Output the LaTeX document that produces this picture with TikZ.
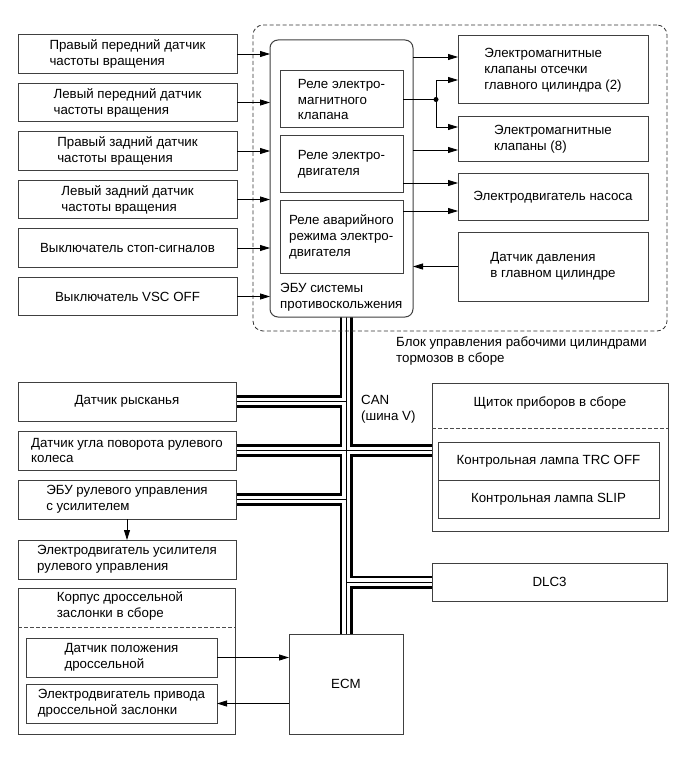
\documentclass[tikz,border=0pt]{standalone}
\usepackage{fontspec}
\setmainfont{Liberation Sans}
\usetikzlibrary{positioning,arrows.meta,backgrounds}

\tikzset{
  blk/.style={draw=black!75, line width=1pt, fill=white, inner sep=0pt, outer sep=0pt, align=left},
  sens/.style={blk, minimum width=219pt, minimum height=38.5pt},
  rel/.style={blk, minimum width=123pt},
  act/.style={blk, minimum width=190pt},
  lft/.style={blk, minimum width=218pt, minimum height=39pt},
  txt/.style={inner sep=0pt, align=left},
  arr/.style={line width=0.8pt, -{Triangle[length=10pt,width=6pt]}},
  sep/.style={draw=black!70, line width=0.8pt, dash pattern=on 3.5pt off 2.5pt},
  bus/.style={line width=0.8pt, preaction={draw=black, line width=13pt}, preaction={draw=white, line width=7.5pt}},
}

\begin{document}
\begin{tikzpicture}[x=1pt, y=-1pt, node distance=10pt, font=\fontsize{13.3}{15.9}\selectfont]
\useasboundingbox (0,0) rectangle (686,759);

%brake actuator block
\node[draw=black!80, line width=0.8pt, dash pattern=on 4pt off 2.5pt, rounded corners=10pt,
  minimum width=414pt, minimum height=306pt] (brake) at (460,178) {};
\node[txt, anchor=north west] (braketxt) at (396,337) {Блок управления рабочими цилиндрами\\тормозов в сборе};

%skid control ECU
\node[blk, rounded corners=8pt, minimum width=143pt, minimum height=277pt] (ecu) at (341.5,178.5) {};
\node[txt, above right=6pt and 10pt of ecu.south west] (ecutxt) {ЭБУ системы\\противоскольжения};
\node[rel, minimum height=57pt] (rvalve) at (341.5,99.5) {Реле электро-\\магнитного\\клапана};
\node[rel, minimum height=57pt] (rmotor) at (341.5,164.5) {Реле электро-\\двигателя};
\node[rel, minimum height=72pt] (rfail) at (341.5,237) {Реле аварийного\\режима электро-\\двигателя};

%sensors and switches
\node[sens] (wfr) at (127.5,54) {Правый передний датчик\\частоты вращения};
\node[sens, below=of wfr] (wfl) {Левый передний датчик\\частоты вращения};
\node[sens, below=of wfl] (wrr) {Правый задний датчик\\частоты вращения};
\node[sens, below=of wrr] (wrl) {Левый задний датчик\\частоты вращения};
\node[sens, below=of wrl] (stop) {Выключатель стоп-сигналов};
\node[sens, below=of stop] (vsc) {Выключатель VSC OFF};
\foreach \s in {wfr,wfl,wrr,wrl,stop,vsc}
  \draw[arr] (\s.east) -- (\s.east -| ecu.west);

%actuators
\node[act, minimum height=68pt] (vcut) at (553,70) {Электромагнитные\\клапаны отсечки\\главного цилиндра (2)};
\node[act, minimum height=45pt] (vsol) at (553,139.5) {Электромагнитные\\клапаны (8)};
\node[act, minimum height=46pt] (pump) at (553,197) {Электродвигатель насоса};
\node[act, minimum height=69pt] (press) at (553,266.5) {Датчик давления\\в главном цилиндре};

\coordinate (t1) at ([yshift=13pt]vcut.west);
\coordinate (t2) at ([yshift=-10.5pt]vsol.west);
\coordinate (t3) at ([yshift=14pt]pump.west);
\coordinate (t4) at ([yshift=-14pt]pump.west);
\coordinate[right=33pt of rvalve.east] (dot);
\draw[arr] (ecu.east |- t1) -- (t1);
\draw (rvalve.east) -- (dot);
\fill (dot) circle (2.5pt);
\draw[arr] (dot) |- ([yshift=-10pt]vcut.west);
\draw[arr] (dot) |- ([yshift=12.5pt]vsol.west);
\draw[arr] (ecu.east |- t2) -- (t2);
\draw[arr] (rmotor.east |- t3) -- (t3);
\draw[arr] (rfail.east |- t4) -- (t4);
\draw[arr] (press.west) -- (press.west -| ecu.east);

%CAN side
\node[txt, anchor=north west] (can) at (361,395) {CAN\\(шина V)};
\node[blk, minimum width=236pt, minimum height=148pt] (meter) at (550,457) {};
\node[txt] (metertxt) at (550,403) {Щиток приборов в сборе};
\draw[sep] ([yshift=-45pt]meter.north west) -- ([yshift=-45pt]meter.north east);
\node[blk, minimum width=221pt, minimum height=38pt] (trc) at (548.5,461) {Контрольная лампа TRC OFF};
\node[blk, minimum width=221pt, minimum height=38pt, below=0pt of trc] (slip) {Контрольная лампа SLIP};
\node[blk, minimum width=235pt, minimum height=38pt] (dlc) at (549.5,582) {DLC3};

\node[lft] (yaw) at (127,401.5) {Датчик рысканья};
\node[lft, below=of yaw] (steer) {Датчик угла поворота рулевого\\колеса};
\node[lft, below=of steer] (eps) {ЭБУ рулевого управления\\с усилителем};
\node[lft, below=21pt of eps] (epsm) {Электродвигатель усилителя\\рулевого управления};
\draw[arr] (eps.south) -- (epsm.north);

%throttle body
\node[blk, minimum width=217pt, minimum height=146pt] (tb) at (126.5,661) {};
\node[txt] (tbtxt) at (120,606) {Корпус дроссельной\\заслонки в сборе};
\draw[sep] ([yshift=-39pt]tb.north west) -- ([yshift=-39pt]tb.north east);
\node[blk, minimum width=191pt, minimum height=39pt] (tps) at (121.5,657.5) {Датчик положения\\дроссельной};
\node[blk, minimum width=191pt, minimum height=39pt, below=7pt of tps] (tmot) {Электродвигатель привода\\дроссельной заслонки};
\node[blk, minimum width=114pt, minimum height=100pt] (ecm) at (346,684) {ECM};
\draw[arr] (tps.east) -- (tps.east -| ecm.west);
\draw[arr] (tmot.east -| ecm.west) -- (tmot.east);

%bus
\begin{scope}[on background layer]
\draw[bus] (ecu.south -| ecm.north) -- (ecm.north)
  (yaw.east) -- (yaw.east -| ecm.north)
  (steer.east) -- (steer.east -| meter.west)
  (eps.east) -- (eps.east -| ecm.north)
  (dlc.west) -- (dlc.west -| ecm.north);
\end{scope}
\end{tikzpicture}
\end{document}
